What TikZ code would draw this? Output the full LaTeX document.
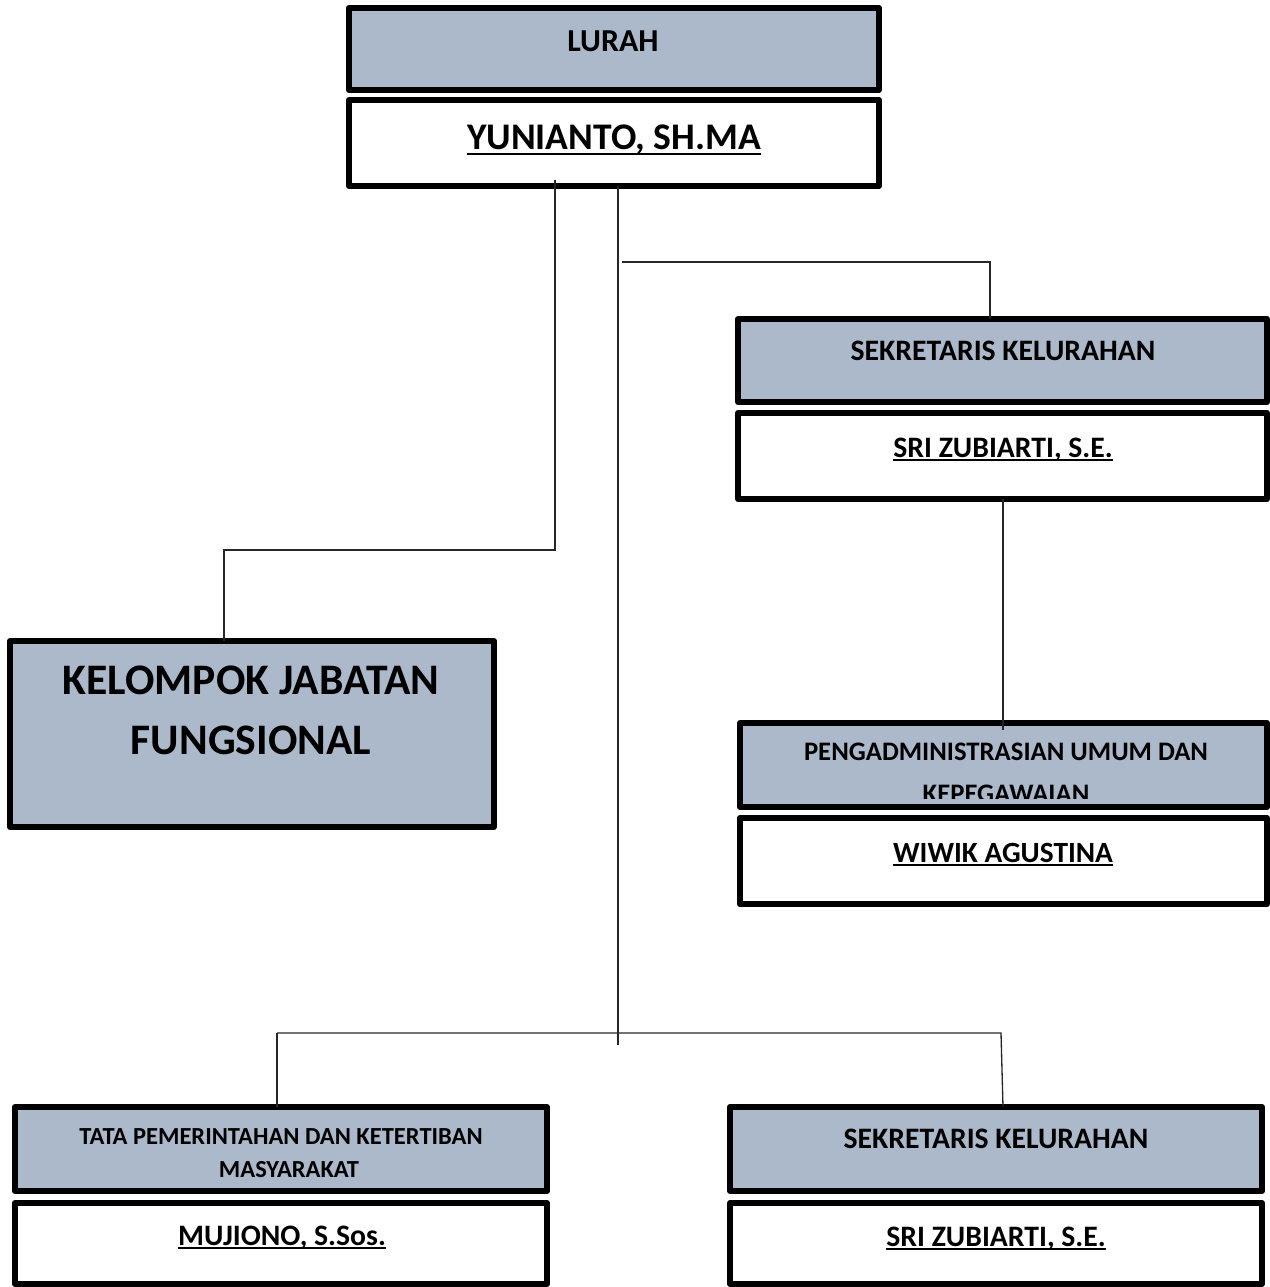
\documentclass[tikz,border=0pt]{standalone}
\usepackage{fontspec}
\setmainfont{Carlito}
\definecolor{kotak}{HTML}{ACB9CA}
% garis bawah untuk nama pejabat
\newcommand\garisbawah[1]{\setbox0\hbox{#1}\rlap{\rule[-0.13em]{\wd0}{0.06em}}\box0}

\begin{document}
\begin{tikzpicture}[x=0.02cm, y=-0.02cm,
        every node/.style={inner sep=0pt, outer sep=0pt},
        jabatan/.style={draw, line width=3.4pt, line join=round, fill=kotak},
        pejabat/.style={draw, line width=3.4pt, line join=round, fill=white},
        teks/.style={anchor=base, font=\bfseries\fontsize{#1}{#1}\selectfont},
        garis/.style={line width=0.75pt, black!85}]

        \useasboundingbox (0,0) rectangle (1270,1287);

        % kotak jabatan dan pejabat
        \node[jabatan, minimum width=10.6cm, minimum height=1.64cm]  (lurah)    at (614,49) {};
        \node[pejabat, minimum width=10.6cm, minimum height=1.72cm]  (yunianto) at (614,143) {};
        \node[jabatan, minimum width=10.58cm, minimum height=1.66cm] (sekdes)   at (1002.5,360.5) {};
        \node[pejabat, minimum width=10.58cm, minimum height=1.72cm] (sri)      at (1002.5,456) {};
        \node[jabatan, minimum width=10.54cm, minimum height=1.68cm] (umum)     at (1003.5,765) {};
        \node[pejabat, minimum width=10.54cm, minimum height=1.72cm] (wiwik)    at (1003.5,861) {};
        \node[jabatan, minimum width=9.68cm, minimum height=3.72cm]  (kjf)      at (252,734) {};
        \node[jabatan, minimum width=10.64cm, minimum height=1.68cm] (trantib)  at (281,1149) {};
        \node[pejabat, minimum width=10.64cm, minimum height=1.62cm] (mujiono)  at (281,1243.5) {};
        \node[jabatan, minimum width=10.64cm, minimum height=1.68cm] (sekdesb)  at (996,1149) {};
        \node[pejabat, minimum width=10.64cm, minimum height=1.62cm] (srib)     at (996,1243.5) {};

        % teks
        \node[teks=18.2pt] (tlurah)    at (613,52)   {LURAH};
        \node[teks=21.4pt] (tyunianto) at (614,150)  {\garisbawah{YUNIANTO, SH.MA}};
        \node[teks=16.9pt] (tsekdes) at (1003,360) {SEKRETARIS KELURAHAN};
        \node[teks=16.9pt] (tsri)    at (1003,457) {\garisbawah{SRI ZUBIARTI, S.E.}};
        \node[teks=15.2pt] (tumum)     at (1006,760) {PENGADMINISTRASIAN UMUM DAN};
        \begin{scope}
            \clip (740,723) rectangle (1267,798);
            \node[teks=15.2pt] (tumumb) at (1006,802) {KEPEGAWAIAN};
        \end{scope}
        \node[teks=16.7pt] (twiwik)  at (1003,862) {\garisbawah{WIWIK AGUSTINA}};
        \node[teks=24.8pt] (tkjf)    at (251,694)  {KELOMPOK JABATAN};
        \node[teks=24.8pt] (tkjfb)   at (251,754)  {FUNGSIONAL};
        \node[teks=13.95pt] (ttrantib)  at (281,1144) {TATA PEMERINTAHAN DAN KETERTIBAN};
        \node[teks=13.95pt] (ttrantibb) at (289,1177) {MASYARAKAT};
        \node[teks=16.9pt] (tmujiono) at (282,1245) {\garisbawah{MUJIONO, S.Sos.}};
        \node[teks=16.9pt] (tsekdesb) at (996,1148) {SEKRETARIS KELURAHAN};
        \node[teks=16.9pt] (tsrib)    at (996,1246) {\garisbawah{SRI ZUBIARTI, S.E.}};

        % garis hubung
        \coordinate (kiri)   at (555,550);
        \coordinate (kirib)  at (224,550);
        \coordinate (batang) at (618,1045);
        \coordinate (atas)   at (622,262);
        \coordinate (ataskn) at (990,262);
        \coordinate (bawah)  at (277,1033);
        \coordinate (bawahkn) at (1001,1033);

        \draw[garis] (yunianto.south -| kiri) ++(0,-6) -- (kiri) -- (kirib) -- (kirib |- kjf.north);
        \draw[garis] (yunianto.south -| batang) -- (batang);
        \draw[garis] (atas) -- (ataskn) -- (ataskn |- sekdes.north);
        \draw[garis] (sri.south -| 1003,0) -- (1003,730);
        \draw[garis] (bawah) -- (bawahkn) -- (sekdesb.north -| 1003,0);
        \draw[garis] (bawah) -- (bawah |- trantib.north);

    \end{tikzpicture}
\end{document}
